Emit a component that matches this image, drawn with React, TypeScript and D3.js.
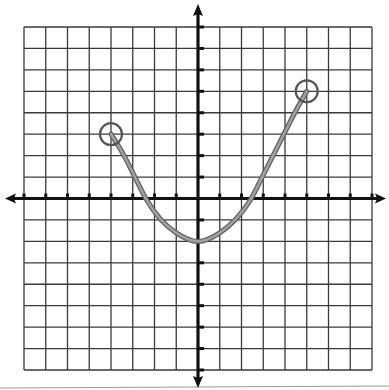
import React, { useEffect, useRef } from 'react';
import * as d3 from 'd3';

// grid runs -8..8 on both axes
const gridValues = d3.range(-8, 9);
const tickValues = d3.range(-8, 9).filter((v) => v !== 0);

// points
const curveX = [-4, -3.4, -2.9, -2.4, -1.7, -1, 0, 1, 1.7, 2.45, 2.95, 3.45, 3.95, 4.45, 5];
const curveY = [3, 2, 1, 0, -1, -1.6, -2, -1.6, -1, 0, 1, 2, 3, 4, 5];

// open endpoints
const openX = [-4, 5];
const openY = [3, 5];

const App = () => {
    const svgRef = useRef<SVGSVGElement>(null);

    useEffect(() => {
        const svg = d3.select(svgRef.current);
        const width = 389;
        const height = 390;
        svg.selectAll('*').remove();
        svg.attr('width', width).attr('height', height);

        const x = d3.scaleLinear().domain([-8, 8]).range([24, 372]);
        const y = d3.scaleLinear().domain([-8, 8]).range([370, 27]);

        svg.append('rect')
            .attr('width', width)
            .attr('height', height)
            .attr('fill', '#fff');

        // grid
        const grid = svg.append('g')
            .attr('stroke', '#3a3a3a')
            .attr('stroke-width', 1.3);
        grid.selectAll('.vline')
            .data(gridValues)
            .join('line')
            .attr('x1', (d) => x(d))
            .attr('x2', (d) => x(d))
            .attr('y1', y(8))
            .attr('y2', y(-8));
        grid.selectAll('.hline')
            .data(gridValues)
            .join('line')
            .attr('class', 'hline')
            .attr('x1', x(-8))
            .attr('x2', x(8))
            .attr('y1', (d) => y(d))
            .attr('y2', (d) => y(d));

        // faint scan edge along the bottom
        svg.append('line')
            .attr('x1', 0).attr('x2', width)
            .attr('y1', 388).attr('y2', 386)
            .attr('stroke', '#999')
            .attr('stroke-width', 1);

        // axes
        const axes = svg.append('g').attr('stroke', '#111').attr('fill', '#111');
        axes.append('line')
            .attr('x1', 10).attr('x2', 379)
            .attr('y1', y(0)).attr('y2', y(0))
            .attr('stroke-width', 3.2);
        axes.append('line')
            .attr('x1', x(0)).attr('x2', x(0))
            .attr('y1', 12).attr('y2', 381)
            .attr('stroke-width', 3.2);

        const arrow = (d: string) => axes.append('path').attr('d', d).attr('stroke', 'none');
        const cx = x(0);
        const cy = y(0);
        arrow(`M5,${cy} L16,${cy - 5} L14,${cy} L16,${cy + 5} Z`);
        arrow(`M386,${cy} L375,${cy - 5} L377,${cy} L375,${cy + 5} Z`);
        arrow(`M${cx},4 L${cx - 5},16 L${cx},14 L${cx + 5},16 Z`);
        arrow(`M${cx},388 L${cx - 5},376 L${cx},378 L${cx + 5},376 Z`);

        // axis ticks
        axes.selectAll('.xtick')
            .data(tickValues)
            .join('line')
            .attr('class', 'xtick')
            .attr('x1', (d) => x(d)).attr('x2', (d) => x(d))
            .attr('y1', cy).attr('y2', cy - 5)
            .attr('stroke-width', 3);
        axes.selectAll('.ytick')
            .data(tickValues)
            .join('line')
            .attr('class', 'ytick')
            .attr('x1', cx).attr('x2', cx + 6)
            .attr('y1', (d) => y(d)).attr('y2', (d) => y(d))
            .attr('stroke-width', 3);

        // curve
        const pts = curveX.map((v, i) => [v, curveY[i]] as [number, number]);
        const line = d3.line<[number, number]>()
            .x((d) => x(d[0]))
            .y((d) => y(d[1]))
            .curve(d3.curveMonotoneX);
        svg.append('path')
            .attr('d', line(pts))
            .attr('fill', 'none')
            .attr('stroke', '#5e5e5e')
            .attr('stroke-width', 5)
            .attr('stroke-linecap', 'round');
        svg.append('path')
            .attr('d', line(pts))
            .attr('fill', 'none')
            .attr('stroke', '#a0a0a0')
            .attr('stroke-width', 2.6)
            .attr('stroke-linecap', 'round');

        svg.selectAll('.open')
            .data(openX)
            .join('circle')
            .attr('class', 'open')
            .attr('cx', (d) => x(d))
            .attr('cy', (d, i) => y(openY[i]))
            .attr('r', 11)
            .attr('fill', 'none')
            .attr('stroke', '#555')
            .attr('stroke-width', 2.2);
    }, []);

    return (
        <svg
            ref={svgRef}
            style={{ position: 'fixed', top: 0, left: 0, display: 'block' }}
        />
    );
};

export default App;
